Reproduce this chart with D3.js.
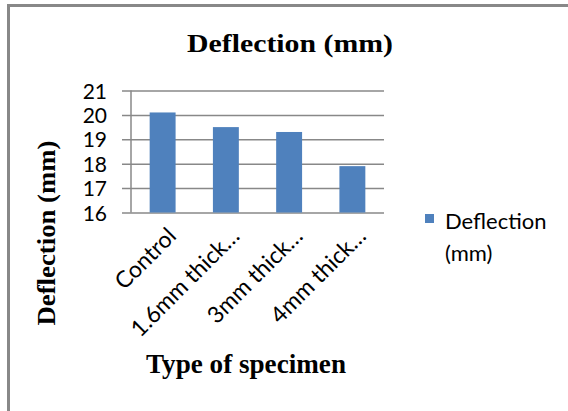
<!DOCTYPE html>
<html>
<head>
<meta charset="utf-8">
<script src="https://cdn.jsdelivr.net/npm/d3@7"></script>
<style>
  html, body { margin: 0; padding: 0; background: #fff; }
  svg { display: block; }
</style>
</head>
<body>
<svg id="chart" width="568" height="411"></svg>
<script>
// Chart data
const categories = ["Control", "1.6mm thick…", "3mm thick…", "4mm thick…"];
const deflection = [20.1, 19.5, 19.3, 17.9];
const yTicks = [16, 17, 18, 19, 20, 21];
const seriesName = ["Deflection", "(mm)"];

const svg = d3.select("#chart");
const W = 568, H = 411;
const plot = { left: 131, right: 384, top: 90.5, bottom: 212.5 };
const barColor = "#4f81bd";
const gridColor = "#888888";
const sansFont = "Lato, 'Open Sans', sans-serif";
const serifFont = "'Liberation Serif', 'Times New Roman', serif";

// Outer frame (only the left and top edges fall inside the page)
svg.append("path")
  .attr("d", `M8.5,${H} V5.5 H${W}`)
  .attr("fill", "none")
  .attr("stroke", "#888").attr("stroke-width", 3);

const x = d3.scaleBand()
  .domain(categories)
  .range([plot.left, plot.right])
  .paddingInner(0.59)
  .paddingOuter(0.295);

const y = d3.scaleLinear()
  .domain([16, 21])
  .range([plot.bottom, plot.top]);

// Horizontal gridlines with outward ticks
const yAxis = d3.axisLeft(y)
  .tickValues(yTicks)
  .tickSize(-(plot.right - plot.left))
  .tickSizeOuter(0)
  .tickPadding(0)
  .tickFormat(d3.format("d"));

const gy = svg.append("g")
  .attr("transform", `translate(${plot.left},0)`)
  .call(yAxis);
gy.select(".domain").remove();
gy.selectAll(".tick line")
  .attr("x1", -9)
  .attr("stroke", gridColor)
  .attr("stroke-width", 1.5);
gy.selectAll(".tick text")
  .attr("x", -24)
  .attr("dy", "0.36em")
  .attr("text-anchor", "end")
  .attr("font-family", sansFont)
  .attr("font-size", 21)
  .attr("fill", "#000");

// Vertical axis line
svg.append("line")
  .attr("x1", plot.left).attr("x2", plot.left)
  .attr("y1", plot.top).attr("y2", plot.bottom)
  .attr("stroke", gridColor).attr("stroke-width", 1.5);

// Bars
svg.append("g").selectAll("rect")
  .data(categories)
  .join("rect")
  .attr("x", d => x(d))
  .attr("width", x.bandwidth())
  .attr("y", (d, i) => y(deflection[i]))
  .attr("height", (d, i) => y(16) - y(deflection[i]))
  .attr("fill", barColor);

// Category labels, rotated
svg.append("g").selectAll("text")
  .data(categories)
  .join("text")
  .attr("transform", d => `translate(${x(d) + x.bandwidth() / 2 + 15},${plot.bottom + 25}) rotate(-45)`)
  .attr("text-anchor", "end")
  .attr("font-family", sansFont)
  .attr("font-size", 23)
  .attr("fill", "#000")
  .text(d => d);

// Chart title
svg.append("text")
  .attr("x", 290).attr("y", 52)
  .attr("text-anchor", "middle")
  .attr("font-family", serifFont)
  .attr("font-weight", "bold")
  .attr("font-size", 26)
  .attr("textLength", 206)
  .attr("lengthAdjust", "spacingAndGlyphs")
  .text("Deflection (mm)");

// Axis titles
svg.append("text")
  .attr("transform", "translate(55,233) rotate(-90)")
  .attr("text-anchor", "middle")
  .attr("font-family", serifFont)
  .attr("font-weight", "bold")
  .attr("font-size", 26)
  .attr("textLength", 185)
  .attr("lengthAdjust", "spacingAndGlyphs")
  .text("Deflection (mm)");

svg.append("text")
  .attr("x", 246).attr("y", 373)
  .attr("text-anchor", "middle")
  .attr("font-family", serifFont)
  .attr("font-weight", "bold")
  .attr("font-size", 28)
  .attr("textLength", 200)
  .attr("lengthAdjust", "spacingAndGlyphs")
  .text("Type of specimen");

// Legend
const lg = svg.append("g");
lg.append("rect")
  .attr("x", 425).attr("y", 214)
  .attr("width", 9).attr("height", 9)
  .attr("fill", barColor);
lg.append("text")
  .attr("font-family", sansFont)
  .attr("font-size", 22)
  .selectAll("tspan")
  .data(seriesName)
  .join("tspan")
  .attr("x", 445)
  .attr("y", (d, i) => 229 + i * 32)
  .text(d => d);
</script>
</body>
</html>
